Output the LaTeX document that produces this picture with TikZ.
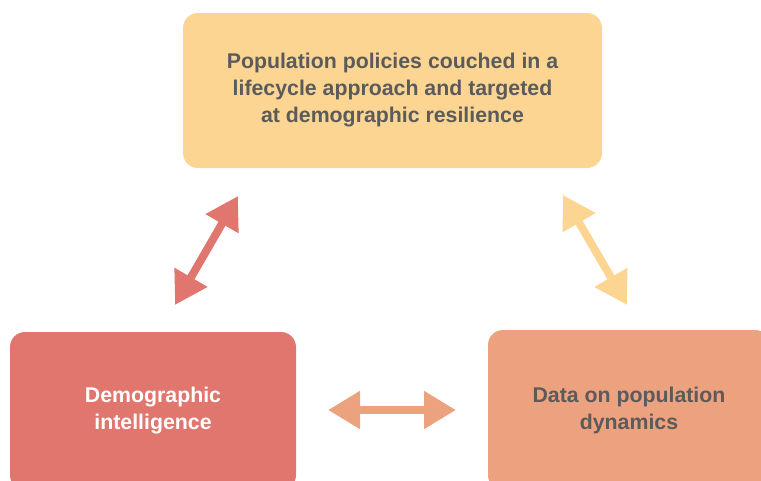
\documentclass[tikz,border=0pt]{standalone}
\usepackage{fontspec}
\setmainfont{Liberation Sans}
\usetikzlibrary{arrows.meta}
\definecolor{boxyellow}{HTML}{FDD593}
\definecolor{boxred}{HTML}{E0766E}
\definecolor{boxorange}{HTML}{ECA27F}
\definecolor{textgrey}{HTML}{5B5B5B}

\begin{document}
\begin{tikzpicture}[x=1pt,y=-1pt,
        %Option for the boxes%
        box/.style={rounded corners=15pt, inner sep=0pt, align=center,
            font=\bfseries\fontsize{21.3}{27}\selectfont},%
        link/.style={line width=8pt, {Triangle[width=36pt,length=32pt]}-{Triangle[width=36pt,length=32pt]}}%
    ]
    \useasboundingbox (0,0) rectangle (761,480);
    \clip (0,0) rectangle (761,480);
    %% the three boxes
    \node[box, fill=boxyellow, text=textgrey, minimum width=419pt, minimum height=155pt]
        (policies) at (392.5,90.5)
        {Population policies couched in a\\lifecycle approach and targeted\\at demographic resilience};
    \node[box, fill=boxred, text=white, minimum width=286pt, minimum height=158pt]
        (intel) at (153,411)
        {Demographic\\intelligence};
    \node[box, fill=boxorange, text=textgrey, minimum width=282pt, minimum height=160pt]
        (data) at (629,410)
        {Data on population\\dynamics};
    %% arrow ends
    \coordinate (a1) at (238,196);
    \coordinate (a2) at (175,305);
    \coordinate (b1) at (563,195);
    \coordinate (b2) at (627,305);
    \coordinate (c1) at (328,410);
    \coordinate (c2) at (456,410);
    %% double arrows
    \draw[link, boxred]    (a2) -- (a1);
    \draw[link, boxyellow] (b1) -- (b2);
    \draw[link, boxorange] (c1) -- (c2);
\end{tikzpicture}
\end{document}
